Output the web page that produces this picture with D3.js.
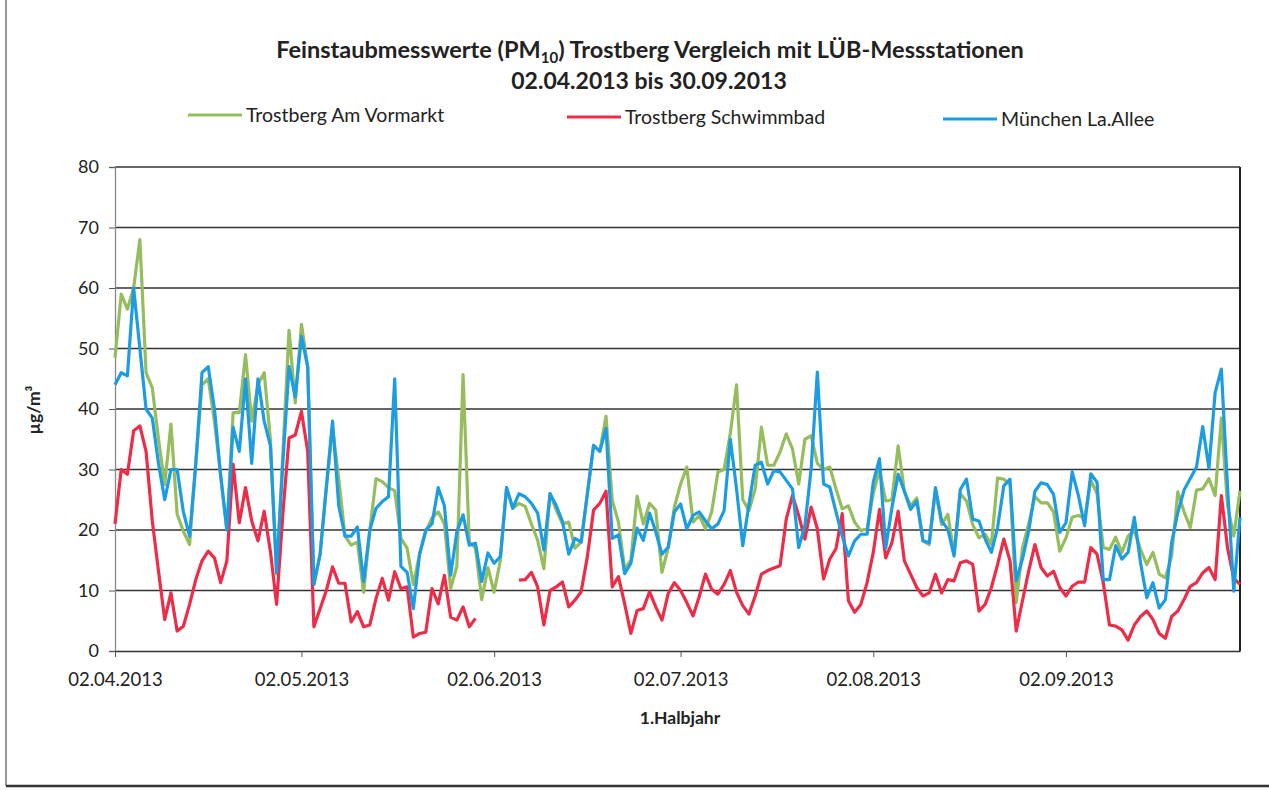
<!DOCTYPE html>
<html lang="de">
<head>
  <meta charset="UTF-8">
  <title>Feinstaubmesswerte PM10 Trostberg</title>
  <script src="https://d3js.org/d3.v7.min.js"></script>
  <style>
    body {
      margin: 0;
      background-color: #fff;
    }
    svg {
      display: block;
      font-family: Lato, "Open Sans", sans-serif;
    }
  </style>
</head>
<body>
  <svg width="1269" height="790"></svg>

  <script>
  // daily values from 02.04.2013 on, one per day
  const firstDay = "02.04.2013";
  const tickLabels = ["02.04.2013", "02.05.2013", "02.06.2013", "02.07.2013", "02.08.2013", "02.09.2013"];
  const yTicks = [0, 10, 20, 30, 40, 50, 60, 70, 80];

  const seriesNames = ["Trostberg Am Vormarkt", "Trostberg Schwimmbad", "München La.Allee"];
  const seriesColors = ["#95bd5c", "#ee2c48", "#1c9de3"];

  const vormarkt = [
    48.5, 59, 56.5, 60, 68, 46, 43.5, 35, 27.5, 37.5,
    22.6, 19.8, 17.6, 31, 44, 45, 38, 29, 20, 39.4,
    39.4, 49, 38, 44, 46, 35, 12.7, 32.5, 53, 41,
    54, 47, 11, 16, 27, 37, 28.5, 19, 17.5, 18,
    9.7, 20, 28.5, 28, 27, 26.5, 18.6, 17, 11, 16,
    19.7, 22, 23, 21, 10.3, 14, 45.7, 18, 17, 8.5,
    13.8, 9.7, 15, 27, 23.6, 24.4, 23.9, 21, 18.3, 13.6,
    26, 23.3, 21, 21.3, 17, 18, 26, 34, 33, 38.8,
    24.9, 21.3, 13.5, 15, 25.6, 21, 24.4, 23.3, 13, 17,
    23.8, 27.6, 30.4, 21.3, 22.4, 20.2, 23, 29.6, 30, 36,
    44, 25, 23.2, 26.8, 37, 30.7, 30.7, 32.9, 35.9, 33.4,
    27.6, 35, 35.6, 31, 30, 30.4, 26.8, 23.5, 24, 21.3,
    19.9, 20.2, 26, 30, 24.8, 25, 33.9, 26.4, 24, 25.3,
    18.2, 17.6, 26.5, 20.9, 22.6, 16, 26, 24.8, 20.9, 18.7,
    19.3, 17.6, 28.6, 28.4, 27.5, 8, 17, 21, 25.5, 24.5,
    24.5, 23, 16.5, 18.7, 22.1, 22.4, 22, 28.2, 26, 17.1,
    16.8, 18.8, 16.3, 19, 19.9, 16.8, 14.3, 16.3, 12.7, 12.1,
    15.7, 26.3, 23, 20.4, 26.6, 26.8, 28.5, 25.7, 38.5, 24,
    19, 26.5
  ];

  // no values 31.05. - 05.06.
  const schwimmbad = [
    21, 30, 29.2, 36.4, 37.2, 33, 21.5, 13.2, 5.2, 9.6,
    3.3, 4.1, 7.7, 11.8, 14.9, 16.5, 15.4, 11.3, 14.9, 30.9,
    21.2, 27, 21.5, 18.2, 23.1, 16.5, 7.7, 22.6, 35.2, 35.7,
    39.6, 33, 4, 7, 10, 13.9, 11.2, 11.2, 4.8, 6.5,
    4, 4.3, 8.7, 12, 8.4, 13.1, 10.3, 10.6, 2.3, 2.9,
    3.1, 10.3, 7.8, 12.5, 5.6, 5.1, 7.3, 4, 5.4, null,
    null, null, null, null, null, 11.7, 11.8, 13, 10.6, 4.3,
    10, 10.6, 11.4, 7.3, 8.4, 9.8, 15.6, 23.3, 24.4, 26.4,
    10.6, 12.3, 7.8, 2.9, 6.7, 7, 9.8, 7.3, 5.1, 9.5,
    11.3, 10, 8, 5.8, 9, 12.7, 10.2, 9.4, 11, 13.3,
    9.7, 7.5, 6.1, 9.1, 12.7, 13.3, 13.7, 14.1, 21.8, 25.7,
    22.4, 18.5, 23.8, 20.2, 11.9, 15.2, 16.9, 22.7, 8.3, 6.4,
    7.7, 11.3, 16.3, 23.4, 15.4, 17.9, 23.1, 14.9, 12.7, 10.5,
    9.1, 9.6, 12.7, 9.6, 11.8, 11.6, 14.6, 14.9, 14.3, 6.6,
    7.7, 10.5, 14.3, 18.5, 14.9, 3.3, 8.3, 13.2, 17.6, 13.8,
    12.4, 13.2, 10.5, 9.1, 10.7, 11.4, 11.4, 17.1, 16, 11.3,
    4.3, 4.1, 3.5, 1.8, 4.3, 5.7, 6.6, 5.2, 2.9, 2.1,
    5.7, 6.6, 8.5, 10.7, 11.3, 12.9, 13.8, 11.8, 25.7, 17,
    12, 11
  ];

  const muenchen = [
    44, 46, 45.5, 60, 50, 40, 38.5, 31, 25, 30,
    30, 23, 19, 31, 46, 47, 40, 29, 20, 37,
    33, 45, 31, 45, 38, 34, 13, 31, 47, 42,
    52, 47, 11, 16, 27, 38, 24, 19, 19, 20.5,
    11.5, 20, 23.6, 24.7, 25.5, 45, 14, 13, 7, 16,
    20, 21, 27, 24, 12.5, 19.7, 22.5, 17.5, 17.8, 11.5,
    16.2, 14.5, 15.6, 27, 23.6, 26, 25.5, 24.4, 22.8, 16.7,
    26, 24, 21.4, 16, 18.6, 18, 26, 34, 33, 36.8,
    18.6, 19.2, 12.8, 14.5, 20.3, 18.3, 22.8, 19.7, 16, 17.2,
    23, 24.3, 20.2, 22.4, 23, 21.5, 20.2, 21, 23.2, 35,
    26.8, 17.4, 24.3, 30.7, 31.2, 27.6, 29.8, 29.6, 28.2, 26.8,
    17.1, 20.7, 30.1, 46.1, 27.6, 27.1, 23, 19, 15.7, 18.2,
    19.3, 19.3, 27.9, 31.8, 17, 23.7, 29.2, 26.4, 23.4, 24.8,
    18.2, 17.9, 27, 21.5, 20.1, 15.7, 26.7, 28.4, 21.8, 21.5,
    18.5, 16.3, 20.4, 27.3, 28.4, 11.6, 15.2, 19.8, 26.4, 27.8,
    27.5, 25.9, 19.6, 21.2, 29.6, 25.7, 20.7, 29.3, 27.9, 11.8,
    11.8, 17.4, 15.2, 16.3, 22.1, 14.6, 8.8, 11.3, 7.1, 8.5,
    17.9, 22.9, 26.6, 28.5, 30.4, 37.1, 30.2, 42.7, 46.6, 27,
    9.9, 22.1
  ];

  const svg = d3.select("svg");
  const plotLeft = 115, plotRight = 1240, plotTop = 167, plotBottom = 651;

  const parseDay = d3.timeParse("%d.%m.%Y");
  const start = parseDay(firstDay);
  const days = d3.range(muenchen.length).map(i => d3.timeDay.offset(start, i));

  const x = d3.scaleTime()
    .domain([days[0], days[days.length - 1]])
    .range([plotLeft, plotRight]);
  const y = d3.scaleLinear()
    .domain([0, 80])
    .range([plotBottom, plotTop]);

  // outer frame of the chart
  svg.append("line")
    .attr("x1", 6).attr("y1", 0).attr("x2", 6).attr("y2", 786)
    .attr("stroke", "#777").attr("stroke-width", 1.5);
  svg.append("line")
    .attr("x1", 6).attr("y1", 786).attr("x2", 1269).attr("y2", 786)
    .attr("stroke", "#333").attr("stroke-width", 2.5);

  // title
  const title = svg.append("text")
    .attr("x", 650)
    .attr("y", 58)
    .attr("text-anchor", "middle")
    .attr("font-size", "23.5px")
    .attr("font-weight", "bold")
    .attr("fill", "#222");
  title.append("tspan").text("Feinstaubmesswerte (PM");
  title.append("tspan").attr("font-size", "15px").attr("dy", 5).text("10");
  title.append("tspan").attr("dy", -5).text(") Trostberg Vergleich mit LÜB-Messstationen");

  svg.append("text")
    .attr("x", 649)
    .attr("y", 89)
    .attr("text-anchor", "middle")
    .attr("font-size", "23px")
    .attr("font-weight", "bold")
    .attr("fill", "#222")
    .text("02.04.2013 bis 30.09.2013");

  // legend
  const legendX = [188, 567, 943];
  const legendY = [115, 117, 119];
  seriesNames.forEach((name, i) => {
    svg.append("line")
      .attr("x1", legendX[i]).attr("y1", legendY[i])
      .attr("x2", legendX[i] + 54).attr("y2", legendY[i])
      .attr("stroke", seriesColors[i])
      .attr("stroke-width", 3);
    svg.append("text")
      .attr("x", legendX[i] + 58)
      .attr("y", legendY[i] + 7)
      .attr("font-size", "19.5px")
      .attr("fill", "#222")
      .text(name);
  });

  // gridlines
  svg.append("g")
    .selectAll("line")
    .data(yTicks.filter(d => d > 0))
    .join("line")
    .attr("x1", plotLeft).attr("x2", plotRight)
    .attr("y1", d => y(d)).attr("y2", d => y(d))
    .attr("stroke", "#333")
    .attr("stroke-width", 1.4);

  svg.append("line")
    .attr("x1", plotRight).attr("x2", plotRight)
    .attr("y1", plotTop).attr("y2", plotBottom)
    .attr("stroke", "#222").attr("stroke-width", 2);

  // y axis
  const yAxis = svg.append("g")
    .attr("transform", `translate(${plotLeft},0)`)
    .call(d3.axisLeft(y).tickValues(yTicks).tickSize(6).tickPadding(10));
  yAxis.select(".domain").attr("stroke", "#888").attr("stroke-width", 1.3);
  yAxis.selectAll(".tick line").attr("stroke", "#555");
  yAxis.selectAll("text")
    .attr("font-size", "18px")
    .attr("font-family", "Lato, 'Open Sans', sans-serif")
    .attr("fill", "#222");

  // x axis
  const xAxis = svg.append("g")
    .attr("transform", `translate(0,${plotBottom})`)
    .call(d3.axisBottom(x)
      .tickValues(tickLabels.map(parseDay))
      .tickFormat(d3.timeFormat("%d.%m.%Y"))
      .tickSize(6)
      .tickSizeOuter(0)
      .tickPadding(16));
  xAxis.select(".domain").attr("stroke", "#333").attr("stroke-width", 1.6);
  xAxis.selectAll(".tick line").attr("stroke", "#555");
  xAxis.selectAll("text")
    .attr("font-size", "18.5px")
    .attr("font-family", "Lato, 'Open Sans', sans-serif")
    .attr("fill", "#222");

  // axis titles
  svg.append("text")
    .attr("x", 680)
    .attr("y", 724)
    .attr("text-anchor", "middle")
    .attr("font-size", "17.5px")
    .attr("font-weight", "bold")
    .attr("fill", "#222")
    .text("1.Halbjahr");

  svg.append("text")
    .attr("transform", "translate(40,410) rotate(-90)")
    .attr("text-anchor", "middle")
    .attr("font-size", "17.5px")
    .attr("font-weight", "bold")
    .attr("fill", "#222")
    .text("µg/m³");

  // series
  const line = d3.line()
    .defined(d => d != null)
    .x((d, i) => x(days[i]))
    .y(d => y(d));

  [vormarkt, schwimmbad, muenchen].forEach((values, i) => {
    svg.append("path")
      .datum(values)
      .attr("fill", "none")
      .attr("stroke", seriesColors[i])
      .attr("stroke-width", 3.2)
      .attr("stroke-linejoin", "round")
      .attr("d", line);
  });
  </script>
</body>
</html>
